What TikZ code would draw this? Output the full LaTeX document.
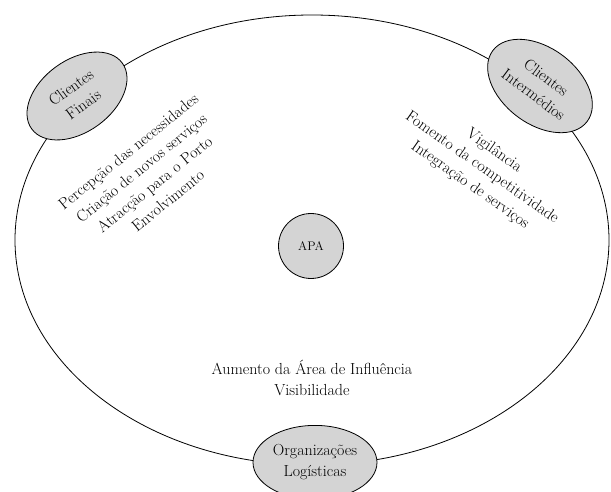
\documentclass[tikz,border=0pt]{standalone}
\usepackage{tikz}
\usepackage{xcolor}
\usetikzlibrary{positioning,shapes}
\definecolor{nodegray}{RGB}{212,212,212}
\tikzset{%
  ring/.style={ellipse,draw,line width=0.8pt,minimum width=594pt,minimum height=450pt},
  actor/.style={ellipse,draw,line width=0.8pt,fill=nodegray,align=center,inner sep=0pt},
  theme/.style={align=center,inner sep=0pt},
}

\begin{document}
\begin{tikzpicture}[x=1pt,y=1pt,font=\fontsize{16}{21}\selectfont]
      \useasboundingbox (0,0) rectangle (611,491);
      \node[ring] (port) at (312,251) {};

      \node[actor,minimum width=65pt,minimum height=65pt,circle,font=\fontsize{12.5}{15}\selectfont] (apa) at (311,245) {APA};
      \node[actor,minimum width=112pt,minimum height=72pt,rotate=36] (finais) at (77,395) {Clientes\\Finais};
      \node[actor,minimum width=118pt,minimum height=76pt,rotate=-37] (interm) at (540,405) {Clientes\\Intermédios};
      \node[actor,minimum width=124pt,minimum height=74pt,yshift=3pt,xshift=3pt] (logist) at (port.south) {Organizações\\Logísticas};

      \node[theme,rotate=39] (needs) at (148,315) {Percepção das necessidades\\Criação de novos serviços\\Atracção para o Porto\\Envolvimento};
      \node[theme,rotate=-35] (compet) at (482,323) {Vigilância\\Fomento da competitividade\\Integração de serviços};
      \node[theme] (area) at (312,113) {Aumento da Área de Influência\\Visibilidade};
    \end{tikzpicture}
\end{document}
